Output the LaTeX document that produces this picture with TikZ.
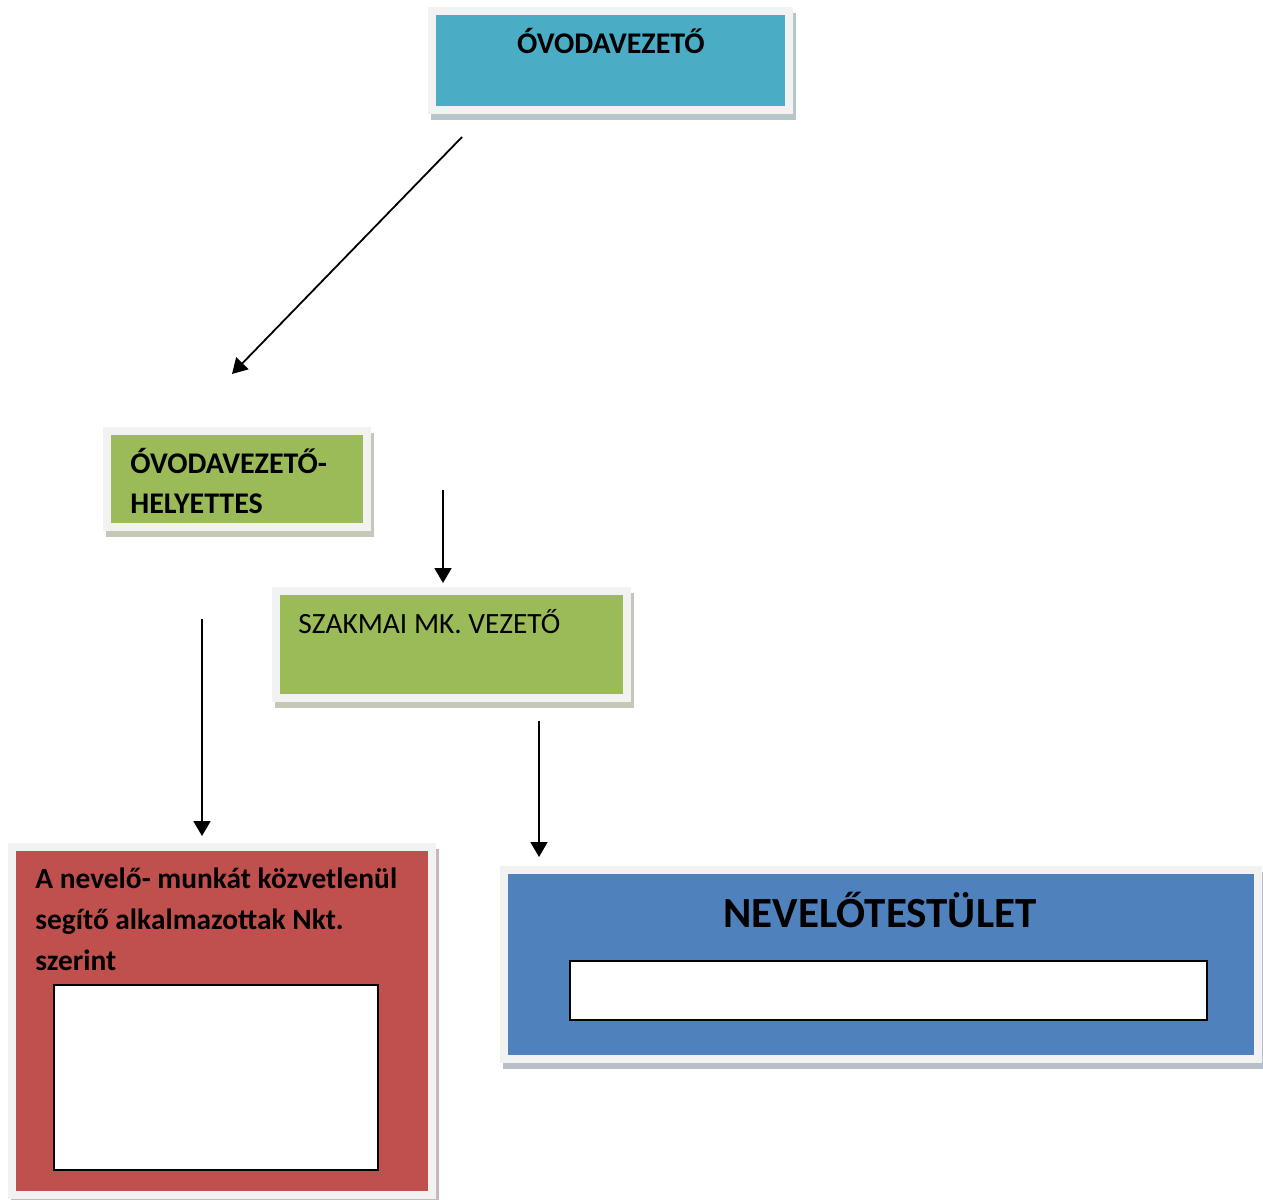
\documentclass[tikz,border=0pt]{standalone}
\usepackage{fontspec}
\setmainfont{Carlito}
\usepackage{xcolor}
\usetikzlibrary{positioning,arrows.meta}

\definecolor{tealbox}{HTML}{4BACC6}
\definecolor{greenbox}{HTML}{9BBB59}
\definecolor{redbox}{HTML}{C0504D}
\definecolor{bluebox}{HTML}{4F81BD}
\definecolor{framegray}{HTML}{F2F2F2}

\begin{document}
\begin{tikzpicture}[x=0.5pt, y=-0.5pt,
  orgbox/.style={rectangle, draw=framegray, line width=4pt, fill=#1,
                 inner sep=0pt,
                 preaction={draw=#1!30!gray!50!white, fill=#1!30!gray!50!white,
                            line width=4pt, transform canvas={shift={(3,6)}}}},
  blank/.style={rectangle, draw=black, line width=1pt, fill=white, inner sep=0pt},
  lbl/.style={font=\fontsize{15}{20}\selectfont\bfseries, align=left, inner sep=0pt},
  arr/.style={-{Triangle[length=7.5pt, width=8.5pt]}, line width=0.9pt, black}]
  \useasboundingbox (0,0) rectangle (1263,1199);
  % boxes
  \node[orgbox=tealbox, minimum width=178.5pt, minimum height=49.5pt] (VEZ) at (610.5,60.5) {};
  \node[orgbox=greenbox, minimum width=130pt, minimum height=48pt] (HELY) at (237,479) {};
  \node[orgbox=greenbox, minimum width=175.5pt, minimum height=53.5pt] (SZAK) at (451.5,644.5) {};
  \node[orgbox=redbox, minimum width=210.25pt, minimum height=174.25pt] (SEGITO) at (221.75,1020.75) {};
  \node[orgbox=bluebox, minimum width=377pt, minimum height=94.5pt] (TESTULET) at (881,964.5) {};
  \node[blank, minimum width=162pt, minimum height=92.5pt] (SEGITOin) at (216,1077.5) {};
  \node[blank, minimum width=318.5pt, minimum height=29.5pt] (TESTULETin) at (888.5,990.5) {};
  % labels (base = last line)
  \node[lbl, anchor=base] (VEZlbl) at (611,53) {ÓVODAVEZETŐ};
  \node[lbl, anchor=base west] (HELYlbl) at (130,513) {ÓVODAVEZETŐ-\\HELYETTES};
  \node[lbl, font=\fontsize{14.7}{20}\selectfont, anchor=base west] (SZAKlbl) at (298,633) {SZAKMAI MK. VEZETŐ};
  \node[lbl, font=\fontsize{14.7}{20.5}\selectfont\bfseries, anchor=base west] (SEGITOlbl) at (35,970)
    {A nevelő- munkát közvetlenül\\segítő alkalmazottak Nkt.\\szerint};
  \node[lbl, font=\fontsize{21.5}{26}\selectfont\bfseries, anchor=base] (TESTULETlbl) at (880,927) {NEVELŐTESTÜLET};
  % arrow ends
  \coordinate (a1) at (462,137);  \coordinate (b1) at (232,374);
  \coordinate (a2) at (443,490);  \coordinate (b2) at (443,583);
  \coordinate (a3) at (202,619);  \coordinate (b3) at (202,836);
  \coordinate (a4) at (539,721);  \coordinate (b4) at (539,857);
  \draw[arr] (a1) -- (b1);
  \draw[arr] (a2) -- (b2);
  \draw[arr] (a3) -- (b3);
  \draw[arr] (a4) -- (b4);
\end{tikzpicture}
\end{document}
